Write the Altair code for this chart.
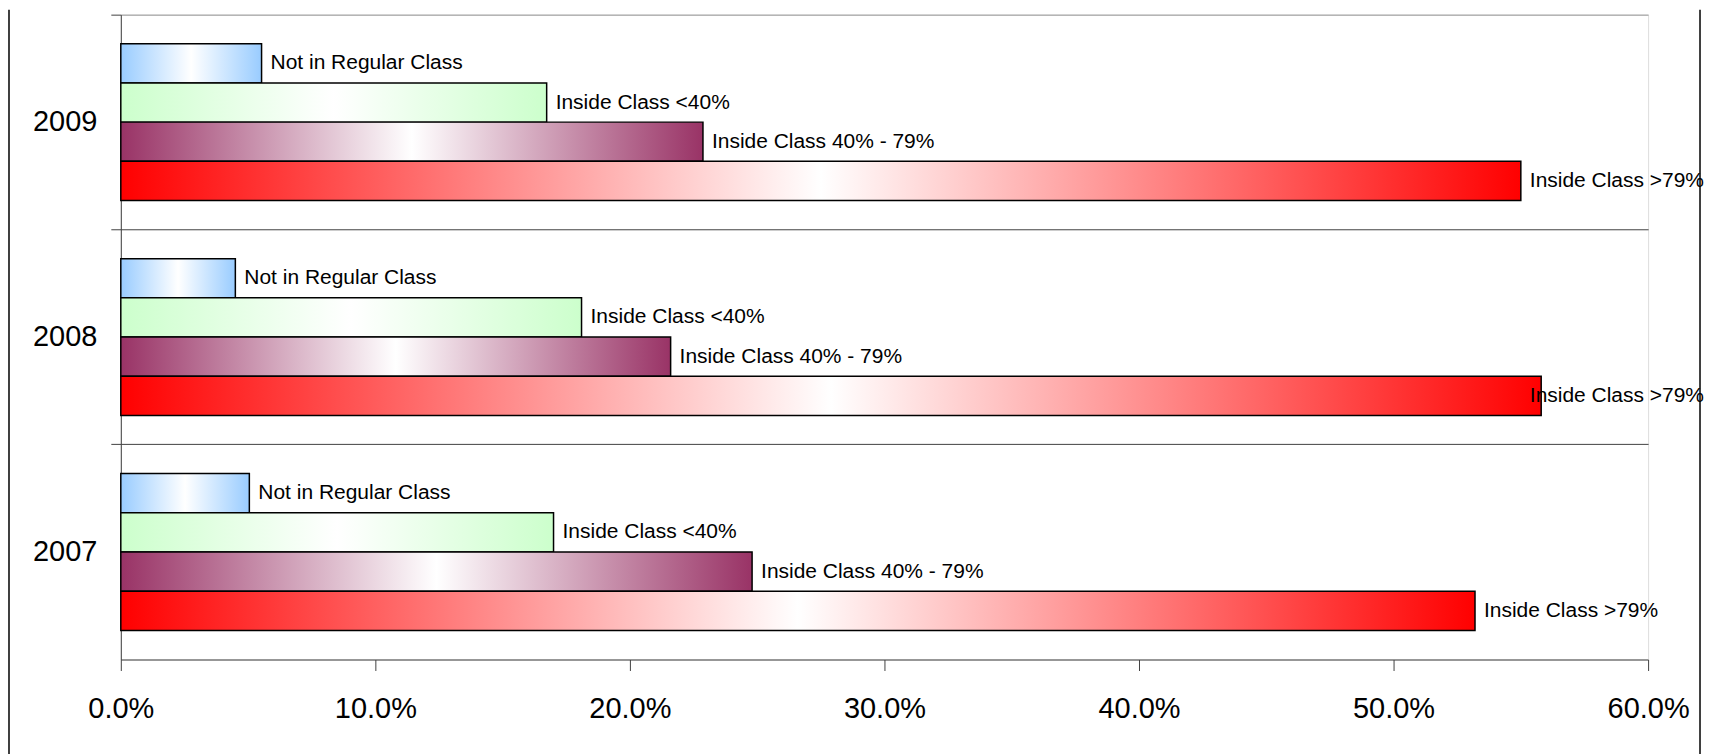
import altair as alt
import pandas as pd

years = ["2009", "2008", "2007"]
series = ["Not in Regular Class", "Inside Class <40%", "Inside Class 40% - 79%", "Inside Class >79%"]
v2009 = [0.0553, 0.1673, 0.2287, 0.5500]
v2008 = [0.0450, 0.1810, 0.2160, 0.5580]
v2007 = [0.0505, 0.1700, 0.2480, 0.5320]
x_ticks = [0.0, 0.1, 0.2, 0.3, 0.4, 0.5, 0.6]
base_colors = ["#99CCFF", "#CCFFCC", "#993366", "#FF0000"]

rows = []
for y, vals in zip(years, [v2009, v2008, v2007]):
    for i, (s, v) in enumerate(zip(series, vals)):
        rows.append({"year": y, "series": s, "order": i, "value": v})
df = pd.DataFrame(rows)

W, H = 1530, 646

yenc = alt.Y("year:N", sort=years,
             scale=alt.Scale(paddingInner=0, paddingOuter=0),
             axis=alt.Axis(title=None, bandPosition=0, grid=True,
                           gridColor={"condition": {"test": "datum.value == '2009'", "value": "#999999"}, "value": "#404040"},
                           gridWidth=1,
                           tickColor="#404040", tickSize=10, domainColor="#404040",
                           labelFontSize=29, labelFont="Liberation Sans", labelColor="black",
                           labelPadding=14, labelAngle=0))
yoff = alt.YOffset("series:N", sort=series,
                   scale=alt.Scale(paddingInner=0, paddingOuter=0.74))
xenc = alt.X("value:Q",
             scale=alt.Scale(domain=[0, 0.6], nice=False),
             axis=alt.Axis(title=None, values=x_ticks, format=".1%", grid=False,
                           tickColor="#404040", tickSize=11, domainColor="#404040",
                           labelFontSize=29, labelFont="Liberation Sans", labelColor="black",
                           labelPadding=24, labelFlush=False))

layers = []
for s, c in zip(series, base_colors):
    grad = alt.LinearGradient(gradient="linear", x1=0, x2=1, y1=0, y2=0,
                              stops=[alt.GradientStop(offset=0, color=c),
                                     alt.GradientStop(offset=0.5, color="white"),
                                     alt.GradientStop(offset=1, color=c)])
    layers.append(
        alt.Chart(df).transform_filter(alt.datum.series == s)
        .mark_bar(fill=grad, stroke="black", strokeWidth=1.5, opacity=1)
        .encode(x=xenc, y=yenc, yOffset=yoff)
    )

labels = (
    alt.Chart(df)
    .transform_calculate(lx="min(datum.value, 0.55)")
    .mark_text(align="left", baseline="middle", dx=9, fontSize=21,
               font="Liberation Sans", color="black")
    .encode(x=alt.X("lx:Q"), y=alt.Y("year:N", sort=years), yOffset=yoff,
            text="series:N")
)

border = (
    alt.Chart(pd.DataFrame({"a": [0]}))
    .mark_rule(color="black", strokeWidth=1.5)
    .encode(x=alt.value(-112), y=alt.value(-5), y2=alt.value(H + 95))
)
border_r = (
    alt.Chart(pd.DataFrame({"a": [0]}))
    .mark_rule(color="black", strokeWidth=1.5)
    .encode(x=alt.value(W + 52), y=alt.value(-5), y2=alt.value(H + 95))
)

chart = (
    alt.layer(*layers, labels, border, border_r)
    .properties(width=W, height=H, padding=0)
    .configure_view(stroke="#999999", strokeWidth=1.5)
    .configure(background="white")
)

chart.save("out.html", embed_options={"renderer": "svg", "actions": False})
